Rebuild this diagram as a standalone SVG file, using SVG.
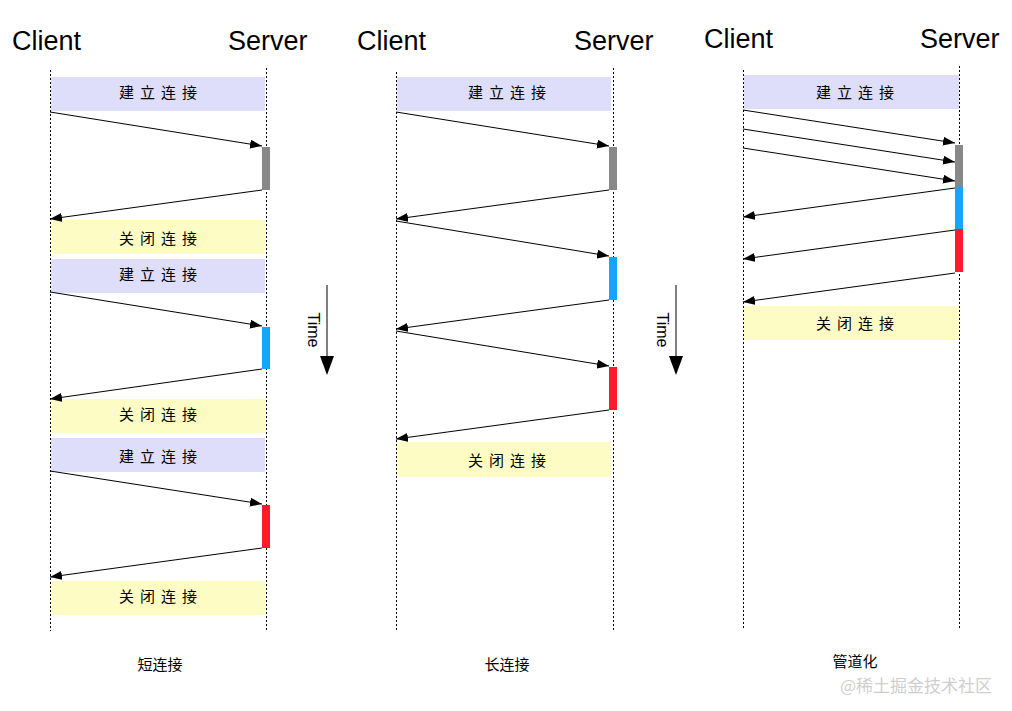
<svg xmlns="http://www.w3.org/2000/svg" width="1012" height="711" viewBox="0 0 1012 711">
<style>
.title{font-family:"Liberation Sans",Arial,sans-serif;font-size:27px;fill:#000}
.band-open{fill:#dedefa}
.band-close{fill:#fcfcc4}
.bt{font-family:"Noto Sans CJK SC","Noto Sans",sans-serif;font-size:15px;fill:#000;text-anchor:middle;letter-spacing:6px}
.cap{font-family:"Noto Sans CJK SC","Noto Sans",sans-serif;font-size:15px;fill:#000;text-anchor:middle}
.life{stroke:#000;stroke-width:1;stroke-dasharray:2,2;fill:none}
.msg{stroke:#000;stroke-width:1;fill:none;marker-end:url(#ah)}
.gray{fill:#888888}.blue{fill:#14a6fa}.red{fill:#fc1a2c}
.time{font-family:"Liberation Sans",Arial,sans-serif;font-size:16px;fill:#000}
</style>
<defs>
<marker id="ah" markerWidth="13" markerHeight="9" refX="12" refY="4.5" orient="auto" markerUnits="userSpaceOnUse">
<path d="M0,0 L12,4.5 L0,9 Z" fill="#000"/>
</marker>
</defs>
<rect width="1012" height="711" fill="#fff"/>

<!-- Panel 1: short connection -->
<g id="p1-titles">
<text class="title" x="12" y="50">Client</text>
<text class="title" x="228" y="50">Server</text>
</g>
<g id="p1-bands">
<rect class="band-open" x="51" y="77" width="214" height="34"/>
<text class="bt" x="161" y="98">建立连接</text>
<rect class="band-close" x="51" y="220" width="214" height="34"/>
<text class="bt" x="161" y="244">关闭连接</text>
<rect class="band-open" x="51" y="259" width="214" height="34"/>
<text class="bt" x="161" y="280">建立连接</text>
<rect class="band-close" x="51" y="399" width="214" height="34"/>
<text class="bt" x="161" y="420">关闭连接</text>
<rect class="band-open" x="51" y="438" width="214" height="34"/>
<text class="bt" x="161" y="462">建立连接</text>
<rect class="band-close" x="51" y="581" width="214" height="34"/>
<text class="bt" x="161" y="602">关闭连接</text>
</g>
<g id="p1-lifelines">
<line class="life" x1="50.5" y1="70" x2="50.5" y2="631"/>
<line class="life" x1="266.5" y1="68" x2="266.5" y2="632"/>
</g>
<g id="p1-bars">
<rect class="gray" x="262" y="147" width="8" height="43"/>
<rect class="blue" x="262" y="327" width="8" height="42"/>
<rect class="red" x="262" y="505" width="8" height="43"/>
</g>
<text class="cap" x="160" y="670">短连接</text>

<!-- Panel 2: keep-alive -->
<g id="p2-titles">
<text class="title" x="357" y="50">Client</text>
<text class="title" x="574" y="50">Server</text>
</g>
<g id="p2-bands">
<rect class="band-open" x="397" y="77" width="214" height="34"/>
<text class="bt" x="510" y="98">建立连接</text>
<rect class="band-close" x="397" y="442" width="214" height="35"/>
<text class="bt" x="510" y="466">关闭连接</text>
</g>
<g id="p2-lifelines">
<line class="life" x1="396.5" y1="72" x2="396.5" y2="631"/>
<line class="life" x1="613.5" y1="68" x2="613.5" y2="632"/>
</g>
<g id="p2-bars">
<rect class="gray" x="609" y="147" width="8" height="43"/>
<rect class="blue" x="609" y="257" width="8" height="43"/>
<rect class="red" x="609" y="367" width="8" height="43"/>
</g>
<text class="cap" x="507" y="670">长连接</text>

<!-- Panel 3: pipelining -->
<g id="p3-titles">
<text class="title" x="704" y="48">Client</text>
<text class="title" x="920" y="48">Server</text>
</g>
<g id="p3-bands">
<rect class="band-open" x="744" y="75" width="215" height="34"/>
<text class="bt" x="858" y="98">建立连接</text>
<rect class="band-close" x="744" y="306" width="215" height="34"/>
<text class="bt" x="858" y="329">关闭连接</text>
</g>
<g id="p3-lifelines">
<line class="life" x1="743.5" y1="70" x2="743.5" y2="629"/>
<line class="life" x1="959.5" y1="66" x2="959.5" y2="630"/>
</g>
<g id="p3-bars">
<rect class="gray" x="955" y="145" width="8" height="42"/>
<rect class="blue" x="955" y="187" width="8" height="42"/>
<rect class="red" x="955" y="229" width="8" height="43"/>
</g>
<text class="cap" x="855" y="667">管道化</text>

<!-- Connectors -->
<g id="connectors">
<line class="msg" x1="50" y1="112" x2="262" y2="146"/>
<line class="msg" x1="262" y1="190" x2="50" y2="219"/>
<line class="msg" x1="50" y1="292" x2="262" y2="326"/>
<line class="msg" x1="262" y1="369" x2="50" y2="399"/>
<line class="msg" x1="50" y1="471" x2="262" y2="504"/>
<line class="msg" x1="262" y1="548" x2="50" y2="577"/>

<line class="msg" x1="396" y1="112" x2="609" y2="146"/>
<line class="msg" x1="609" y1="190" x2="396" y2="219"/>
<line class="msg" x1="396" y1="221" x2="609" y2="256"/>
<line class="msg" x1="609" y1="300" x2="396" y2="329"/>
<line class="msg" x1="396" y1="331" x2="609" y2="366"/>
<line class="msg" x1="609" y1="410" x2="396" y2="439"/>

<line class="msg" x1="743" y1="110" x2="955" y2="143"/>
<line class="msg" x1="743" y1="129" x2="955" y2="162"/>
<line class="msg" x1="743" y1="148" x2="955" y2="181"/>
<line class="msg" x1="955" y1="188" x2="743" y2="217"/>
<line class="msg" x1="955" y1="230" x2="743" y2="259"/>
<line class="msg" x1="955" y1="273" x2="743" y2="302"/>
</g>

<!-- Time arrows -->
<g id="time1">
<line x1="327" y1="285" x2="327" y2="356" stroke="#000" stroke-width="1"/>
<path d="M320,356 L334,356 L327,375 Z" fill="#000"/>
<text class="time" x="308" y="330" text-anchor="middle" transform="rotate(90 308 330)">Time</text>
</g>
<g id="time2">
<line x1="676" y1="285" x2="676" y2="356" stroke="#000" stroke-width="1"/>
<path d="M669,356 L683,356 L676,375 Z" fill="#000"/>
<text class="time" x="657" y="330" text-anchor="middle" transform="rotate(90 657 330)">Time</text>
</g>

<text x="992" y="692" text-anchor="end" font-family="Noto Sans CJK SC, sans-serif" font-size="17" fill="#c8c8c8" fill-opacity="0.9">@稀土掘金技术社区</text>
</svg>
